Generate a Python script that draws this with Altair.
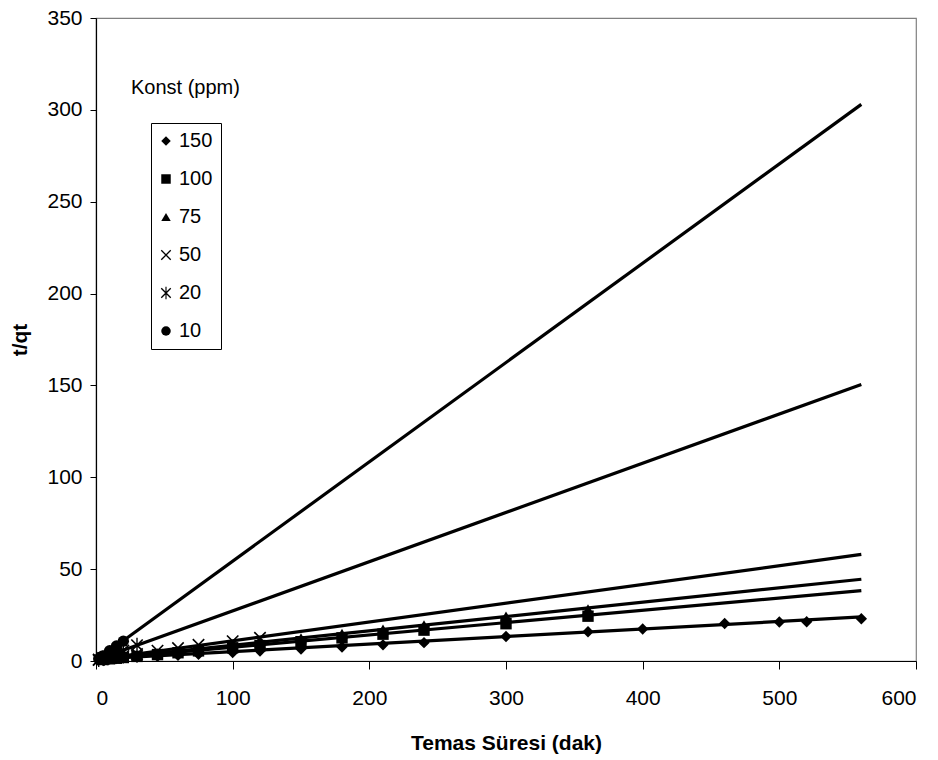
import altair as alt
import pandas as pd

# ---- data ----
series_order = ["150", "100", "75", "50", "20", "10"]

t_150 = [5, 10, 15, 20, 30, 45, 60, 75, 100, 120, 150, 180, 210, 240, 300, 360, 400, 460, 500, 520, 560]
y_150 = [0.7, 1.0, 1.3, 1.6, 2.0, 2.6, 3.1, 3.7, 4.6, 5.4, 6.5, 7.6, 8.8, 10.0, 13.3, 15.9, 17.4, 20.4, 21.2, 21.4, 23.0]

t_100 = [5, 10, 15, 20, 30, 45, 60, 75, 100, 120, 150, 180, 210, 240, 300, 360]
y_100 = [0.8, 1.2, 1.5, 1.9, 2.5, 3.5, 4.5, 5.5, 7.2, 8.4, 10.5, 12.6, 14.6, 16.8, 20.3, 24.4]

t_75 = [5, 10, 15, 20, 30, 45, 60, 75, 100, 120, 150, 180, 210, 240, 300, 360]
y_75 = [0.9, 1.4, 1.8, 2.2, 3.0, 4.2, 5.3, 6.5, 8.5, 10.0, 12.4, 14.8, 17.2, 19.5, 24.3, 28.2]

t_50 = [2, 5, 10, 15, 20, 30, 45, 60, 75, 100, 120]
y_50 = [0.5, 0.9, 1.6, 2.2, 2.7, 3.8, 5.6, 7.0, 8.8, 10.8, 12.6]

t_20 = [2, 5, 10, 15, 20, 30]
y_20 = [0.8, 1.6, 3.0, 4.3, 5.7, 8.6]

t_10 = [2, 5, 10, 15, 20]
y_10 = [1.2, 2.8, 5.6, 8.2, 10.8]

# trendline end values (t = 0 and t = 560)
trend_t0 = [0.0, 560.0]
trend_start = [1.0, 0.8, 0.8, 0.8, 0.5, 0.3]
trend_end = [24.0, 38.3, 44.5, 58.0, 150.5, 303.0]

# filled outlines so that fill alone draws the cross / asterisk symbols
X_PATH = ("M-0.9,-1.1L1.1,0.9L0.9,1.1L-1.1,-0.9Z"
          "M-1.1,0.9L0.9,-1.1L1.1,-0.9L-0.9,1.1Z")
AST_PATH = X_PATH + "M-0.12,-1.3L0.12,-1.3L0.12,1.3L-0.12,1.3Z"

shape_range = ["diamond", "square", "triangle-up", X_PATH, AST_PATH, "circle"]

# ---- build tables ----
pts = []
for s, ts, ys in [("150", t_150, y_150), ("100", t_100, y_100), ("75", t_75, y_75),
                  ("50", t_50, y_50), ("20", t_20, y_20), ("10", t_10, y_10)]:
    for t, y in zip(ts, ys):
        pts.append({"series": s, "t": t, "y": y})
pts_df = pd.DataFrame(pts)

lines = []
for s, a, b in zip(series_order, trend_start, trend_end):
    lines.append({"series": s, "t": trend_t0[0], "y": a})
    lines.append({"series": s, "t": trend_t0[1], "y": b})
lines_df = pd.DataFrame(lines)

FONT = "Liberation Sans"

x_enc = alt.X(
    "t:Q",
    scale=alt.Scale(domain=[0, 600], nice=False),
    axis=alt.Axis(
        values=[0, 100, 200, 300, 400, 500, 600],
        title="Temas Süresi (dak)",
        titleFontSize=21, titleFontWeight="bold", titlePadding=24,
        labelFontSize=21, labelPadding=18, tickSize=8,
    ),
)
y_enc = alt.Y(
    "y:Q",
    scale=alt.Scale(domain=[0, 350], nice=False),
    axis=alt.Axis(
        values=[0, 50, 100, 150, 200, 250, 300, 350],
        title="t/qt",
        titleFontSize=21, titleFontWeight="bold", titlePadding=16,
        labelFontSize=21, labelPadding=8, tickSize=6,
    ),
)

line_layer = alt.Chart(lines_df).mark_line(color="black", strokeWidth=3.2).encode(
    x=x_enc, y=y_enc, detail="series:N"
)

point_layer = alt.Chart(pts_df).mark_point(
    filled=True, color="black", opacity=1, size=130
).encode(
    x="t:Q",
    y="y:Q",
    shape=alt.Shape(
        "series:N",
        scale=alt.Scale(domain=series_order, range=shape_range),
        legend=alt.Legend(
            title=None,
            orient="none",
            legendX=55,
            legendY=105,
            strokeColor="black",
            padding=8,
            labelFontSize=20,
            labelFont=FONT,
            labelColor="black",
            labelOffset=3,
            symbolOffset=-3,
            symbolSize=90,
            symbolFillColor="black",
            symbolOpacity=1,
            rowPadding=18,
        ),
    ),
)

title_layer = alt.Chart(pd.DataFrame({"txt": ["Konst (ppm)"]})).mark_text(
    font=FONT, fontSize=20, align="left", baseline="middle", color="black"
).encode(x=alt.value(35), y=alt.value(70), text="txt:N")

chart = alt.layer(line_layer, point_layer, title_layer).properties(
    width=820,
    height=643,
    autosize=alt.AutoSizeParams(type="none"),
    padding={"left": 88, "top": 10, "right": 14, "bottom": 98},
).configure_view(
    stroke="#808080", strokeWidth=1.2
).configure_axis(
    labelFont=FONT, titleFont=FONT, domainColor="black", tickColor="black",
    labelColor="black", titleColor="black", grid=False, domainWidth=1.2,
)

chart.save("out.html", embed_options={"renderer": "svg", "actions": False})
